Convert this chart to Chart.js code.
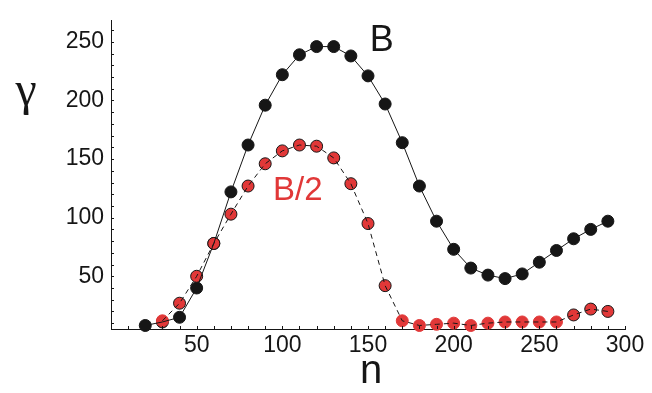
<!DOCTYPE html>
<html>
<head>
<meta charset="utf-8">
<script src="https://cdn.jsdelivr.net/npm/chart.js@4/dist/chart.umd.min.js"></script>
<style>
  html, body { margin: 0; padding: 0; background: #fff; }
  canvas { display: block; }
</style>
</head>
<body>
<canvas id="mycanvas" width="652" height="393"></canvas>
<script>
// growth rate vs n, full field B and half field B/2
var nB = [20, 30, 40, 50, 60, 70, 80, 90, 100, 110, 120, 130, 140, 150, 160, 170, 180, 190, 200, 210, 220, 230, 240, 250, 260, 270, 280, 290];
var gammaB = [8, 11, 15, 40, 78, 122, 162, 196, 222, 239, 246, 246, 238, 221, 197, 164, 127, 97, 73, 57, 51, 48, 52, 62, 72, 82, 90, 97];

var nHalf = [30, 40, 50, 60, 70, 80, 90, 100, 110, 120, 130, 140, 150, 160, 170, 180, 190, 200, 210, 220, 230, 240, 250, 260, 270, 280, 290];
var gammaHalf = [12, 27, 50, 78, 103, 127, 146, 157, 162, 161, 151, 129, 95, 42, 12, 8, 9, 10, 8, 10, 11, 11, 11, 11, 17, 22, 20];

var xTickLabels = [50, 100, 150, 200, 250, 300];
var yTickLabels = [50, 100, 150, 200, 250];

var RED = '#e13838';
var INK = '#161616';

function toPoints(xs, ys) {
  var pts = [];
  for (var i in xs) {
    pts.push({x: xs[i], y: ys[i]});
  }
  return pts;
}

var ptsB = toPoints(nB, gammaB);
var ptsHalf = toPoints(nHalf, gammaHalf);

// short inward tick marks + axis symbols and curve labels
var decorations = {
  id: 'decorations',
  afterDraw: function(chart) {
    var ctx = chart.ctx;
    var xs = chart.scales.x, ys = chart.scales.y;
    var area = chart.chartArea;
    ctx.save();
    ctx.strokeStyle = INK;
    ctx.lineWidth = 1;
    ctx.beginPath();
    for (var v = 10; v <= 300; v += 10) {
      var px = Math.round(xs.getPixelForValue(v)) + 0.5;
      ctx.moveTo(px, area.bottom);
      ctx.lineTo(px, area.bottom - 3);
    }
    for (var w = 10; w <= 260; w += 10) {
      var py = Math.round(ys.getPixelForValue(w)) + 0.5;
      ctx.moveTo(area.left, py);
      ctx.lineTo(area.left + 3, py);
    }
    ctx.stroke();

    ctx.textAlign = 'center';
    ctx.textBaseline = 'middle';
    ctx.fillStyle = INK;
    ctx.font = '48px "Liberation Serif"';
    ctx.fillText('\u03b3', 26, 92);
    ctx.font = '40px "Liberation Sans"';
    ctx.fillText('n', 371, 372);

    ctx.font = '36px "Liberation Sans"';
    ctx.fillText('B', xs.getPixelForValue(158), ys.getPixelForValue(251));
    ctx.fillStyle = RED;
    ctx.font = '33px "Liberation Sans"';
    ctx.fillText('B/2', xs.getPixelForValue(109), ys.getPixelForValue(123));
    ctx.restore();
  }
};

var ctx = document.getElementById('mycanvas');

var chart = new Chart(ctx, {
  type: 'scatter',
  data: {
    datasets: [
      {
        // solid curve through B
        data: ptsB,
        showLine: true,
        borderColor: INK,
        borderWidth: 1,
        pointRadius: 0,
        clip: false,
        order: 0
      }, {
        // dashed curve through B/2
        data: ptsHalf,
        showLine: true,
        borderColor: INK,
        borderWidth: 1,
        borderDash: [5, 4],
        pointRadius: 0,
        clip: false,
        order: 0
      }, {
        data: ptsHalf,
        backgroundColor: RED,
        pointBorderColor: function(c) {
          var n = nHalf[c.dataIndex];
          return (n < 40 || (n >= 170 && n <= 260)) ? RED : INK;
        },
        pointBorderWidth: 1,
        pointRadius: 6,
        clip: false,
        order: 1
      }, {
        data: ptsB,
        backgroundColor: INK,
        pointBorderColor: INK,
        pointRadius: 6,
        clip: false,
        order: 2
      }
    ]
  },
  options: {
    responsive: false,
    animation: false,
    events: [],
    layout: { padding: { left: 0, right: 27, top: 13, bottom: 0 } },
    plugins: { legend: { display: false }, tooltip: { enabled: false } },
    scales: {
      x: {
        type: 'linear',
        min: 0,
        max: 300,
        afterFit: function(s) { s.height = 64; },
        grid: { drawOnChartArea: false, drawTicks: false },
        border: { color: INK, width: 1 },
        ticks: {
          stepSize: 50,
          includeBounds: false,
          padding: 3,
          color: INK,
          font: { family: 'Liberation Sans', size: 23 },
          callback: function(v) { return xTickLabels.indexOf(v) >= 0 ? v : ''; }
        }
      },
      y: {
        min: 5,
        max: 268,
        afterFit: function(s) { s.width = 111; },
        grid: { drawOnChartArea: false, drawTicks: false },
        border: { color: INK, width: 1 },
        ticks: {
          stepSize: 50,
          includeBounds: false,
          padding: 7,
          color: INK,
          font: { family: 'Liberation Sans', size: 23 },
          callback: function(v) { return yTickLabels.indexOf(v) >= 0 ? v : ''; }
        }
      }
    }
  },
  plugins: [decorations]
});
</script>
</body>
</html>
